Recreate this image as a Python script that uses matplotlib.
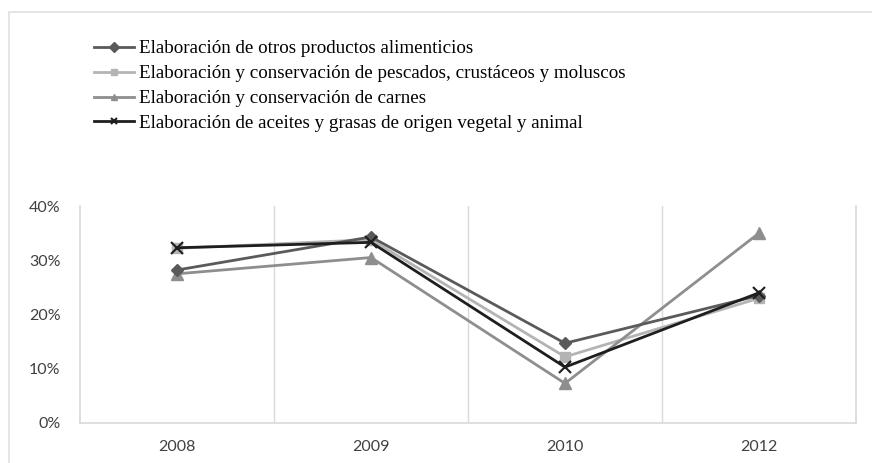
import numpy as np
import matplotlib
matplotlib.use('Agg')
import matplotlib.pyplot as plt
from matplotlib.patches import Rectangle

years = ['2008', '2009', '2010', '2012']
otros = [0.282, 0.343, 0.147, 0.235]
pescados = [0.322, 0.338, 0.122, 0.230]
carnes = [0.275, 0.305, 0.073, 0.350]
aceites = [0.323, 0.333, 0.103, 0.240]
names = ['Elaboración de otros productos alimenticios',
         'Elaboración y conservación de pescados, crustáceos y moluscos',
         'Elaboración y conservación de carnes',
         'Elaboración de aceites y grasas de origen vegetal y animal']
yticks = [0, 0.1, 0.2, 0.3, 0.4]

fig = plt.figure(figsize=(8.72, 4.63), dpi=100)
fig.patch.set_facecolor('white')
ax = fig.add_axes([80/872, 1-423/463, (856-80)/872, (423-206)/463])

x = np.arange(len(years))
grid_c = '#d9d9d9'
ax.plot(x, otros, color='#5a5a5a', lw=2, marker='D', ms=6, label=names[0], zorder=3)
ax.plot(x, pescados, color='#b4b4b4', lw=2, marker='s', ms=7, label=names[1], zorder=2)
ax.plot(x, carnes, color='#8e8e8e', lw=2, marker='^', ms=8, label=names[2], zorder=2)
ax.plot(x, aceites, color='#1e1e1e', lw=2, marker='x', ms=9, mew=1.5, label=names[3], zorder=4)

ax.set_xlim(-0.5, 3.5)
ax.set_ylim(0, 0.4)
ax.set_xticks(x)
ax.set_xticklabels(years)
ax.set_xticks([0.5, 1.5, 2.5], minor=True)
ax.xaxis.grid(True, which='minor', color=grid_c, lw=1)
ax.set_yticks(yticks)
ax.set_yticklabels(['%d%%' % round(v*100) for v in yticks])
ax.tick_params(axis='both', which='both', length=0, labelsize=11.5, colors='#404040')
ax.tick_params(axis='x', pad=12)
ax.tick_params(axis='y', pad=14)
for lab in ax.get_xticklabels() + ax.get_yticklabels():
    lab.set_family('Lato')
ax.spines['top'].set_visible(False)
for s in ['left', 'right', 'bottom']:
    ax.spines[s].set_color(grid_c)
    ax.spines[s].set_linewidth(1.2)

leg = fig.legend(loc='upper left', bbox_to_anchor=(94/872, 1-40/463), frameon=False,
                 prop={'family': 'Liberation Serif', 'size': 13.7},
                 handlelength=2.1, handletextpad=0.25, labelspacing=0.4,
                 borderaxespad=0, borderpad=0)
for h in leg.legend_handles:
    h.set_markersize(5)

fig.patches.append(Rectangle((9/872, -0.05), 1.0, 1 - 12/463 + 0.05, transform=fig.transFigure,
                             fill=False, edgecolor='#e0e0e0', lw=1.2))

fig.savefig('out.png', dpi=100, facecolor='white')
